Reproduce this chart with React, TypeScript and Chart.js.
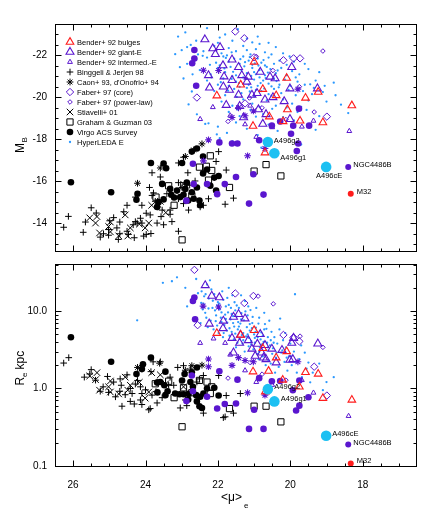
import React, { useEffect, useRef } from 'react';
import { Chart, registerables } from 'chart.js';

Chart.register(...registerables);

type P = [number, number];

// ---------------- DATA: [<mu>_e, M_B] (top)   [<mu>_e, R_e kpc] (bottom)
const benderBulgesTop: P[] = [[22.03,-20.08],[21.37,-20.60],[21.00,-21.69],[20.76,-20.39],[20.39,-20.09],[20.10,-20.92],[19.58,-19.97],[19.23,-20.25],[18.30,-19.61],[20.08,-19.42],[20.58,-19.08],[21.03,-18.63],[20.20,-18.85],[19.73,-18.88],[19.10,-18.80],[20.70,-17.36]];
const benderBulgesBottom: P[] = [[22.03,5.18],[21.37,4.92],[21.00,5.65],[20.76,3.30],[20.10,3.01],[20.39,2.50],[19.58,1.62],[19.23,1.54],[20.60,1.68],[21.03,1.65],[20.21,1.29],[19.75,1.05],[19.10,0.75],[18.30,0.71],[20.69,0.91]];

const benderGiantTop: P[] = [[22.36,-22.76],[22.14,-22.33],[21.94,-22.39],[22.07,-22.06],[21.61,-21.80],[21.86,-21.52],[22.26,-21.05],[21.83,-20.99],[21.61,-20.82],[21.43,-21.44],[21.34,-21.05],[21.16,-20.98],[20.83,-21.21],[21.20,-20.74],[22.23,-20.46],[21.85,-20.51],[21.68,-20.35],[21.43,-20.12],[21.06,-20.12],[20.70,-19.89],[20.92,-20.20],[20.56,-20.98],[20.42,-20.90],[19.96,-21.44],[20.01,-20.42],[20.48,-20.00],[20.17,-19.81],[21.40,-19.58],[21.77,-19.63],[20.67,-19.19],[20.88,-19.42],[20.01,-18.96],[19.25,-20.42],[21.29,-19.04],[20.76,-18.73]];
const benderGiantBottom: P[] = [[22.35,21.5],[22.17,15.7],[21.96,15.0],[22.24,6.85],[21.85,7.48],[21.86,5.98],[21.61,4.48],[21.38,4.92],[21.40,3.87],[21.16,4.19],[21.06,3.25],[20.91,3.76],[20.70,3.62],[20.51,3.25],[20.23,3.13],[19.96,3.87],[20.79,2.90],[20.67,2.38],[20.97,2.63],[20.01,2.34],[21.57,2.90],[20.39,2.16],[21.43,9.12],[21.57,8.40],[21.25,8.0],[20.83,5.02],[19.24,3.79],[19.93,2.38],[20.74,2.50],[19.91,4.48]];

const benderInterTop: P[] = [[22.49,-18.96],[22.14,-19.53],[19.36,-18.88],[18.37,-18.39],[20.94,-18.11],[19.68,-18.60],[21.25,-18.71],[21.66,-19.13],[20.50,-18.57],[21.11,-19.60]];
const benderInterBottom: P[] = [[22.49,3.87],[22.12,4.41],[21.80,3.87],[19.36,0.88],[18.39,0.44],[20.94,1.21],[19.68,1.28],[21.25,1.71],[20.50,1.11],[21.66,2.73]];

const binggeliTop: P[] = [[26.13,-14.32],[26.26,-13.80],[25.50,-14.73],[25.66,-14.05],[25.72,-13.56],[25.25,-13.33],[25.02,-13.42],[24.99,-14.11],[24.88,-14.26],[24.71,-14.05],[24.71,-13.49],[24.51,-13.61],[24.34,-13.92],[24.23,-14.00],[24.14,-14.23],[24.10,-14.00],[23.98,-14.47],[24.10,-14.85],[24.28,-15.24],[24.51,-14.85],[24.60,-14.54],[23.87,-14.39],[23.68,-14.00],[23.85,-13.50],[24.31,-13.30],[24.05,-13.38],[23.54,-14.62],[23.32,-14.62],[23.57,-14.31],[23.89,-15.70],[23.82,-15.32],[23.09,-16.87],[22.95,-17.14],[22.83,-16.40],[23.59,-16.20],[23.41,-15.40],[23.09,-15.16],[22.95,-14.93],[22.81,-14.62],[22.40,-14.85],[21.98,-17.41],[21.77,-16.53],[21.57,-15.19],[22.99,-15.70],[22.78,-15.81],[22.63,-16.01],[25.02,-13.69],[25.16,-13.49],[24.79,-13.77],[24.47,-13.46],[23.98,-13.46],[24.28,-14.07],[23.73,-15.04],[23.66,-14.77],[23.32,-14.42],[23.78,-15.44],[23.82,-16.40],[23.09,-15.93],[22.26,-15.16],[22.05,-16.94],[21.80,-14.90],[22.49,-14.77],[23.27,-14.07],[23.50,-13.92],[23.09,-13.61],[25.36,-14.48],[24.75,-13.22]];
const binggeliBottom: P[] = [[26.12,2.50],[26.26,2.13],[25.50,1.75],[25.54,1.54],[25.69,1.40],[25.05,1.43],[25.25,0.92],[25.02,0.89],[25.17,1.05],[24.88,1.21],[24.67,1.10],[24.70,1.33],[24.51,1.50],[24.71,0.92],[24.42,1.00],[24.37,0.86],[24.22,1.27],[24.14,1.05],[24.10,0.86],[24.14,0.71],[24.42,0.68],[24.31,0.63],[24.65,0.59],[24.10,0.62],[23.87,0.55],[23.82,0.82],[23.79,2.21],[23.59,2.21],[23.85,1.65],[23.68,1.21],[23.54,0.76],[23.36,1.10],[23.22,1.10],[23.11,1.87],[22.95,1.97],[22.76,1.78],[22.58,1.21],[22.90,0.71],[22.86,0.60],[23.04,0.56],[22.51,1.33],[22.40,1.47],[21.98,1.47],[21.77,0.81],[21.57,0.48],[21.85,0.42],[23.71,0.91],[23.91,0.53],[23.68,0.65],[22.40,0.48],[21.80,0.43],[25.38,1.28],[24.83,0.78],[24.56,0.83],[24.00,0.96],[24.28,1.14],[23.32,1.40],[21.38,0.86]];

const caonBlackTop: P[] = [[22.44,-17.78],[23.59,-16.63],[24.22,-15.90],[22.67,-17.49],[22.90,-17.18]];
const caonPurpleTop: P[] = [[22.40,-21.29],[21.98,-21.28],[21.43,-19.50],[21.02,-19.35],[21.61,-19.04],[21.25,-19.12],[19.79,-20.39],[21.18,-17.21],[20.70,-17.56],[22.26,-17.97],[22.40,-16.97]];
const caonBlackBottom: P[] = [[24.22,1.87],[23.61,2.12],[22.72,1.97],[22.44,2.00],[22.90,1.72]];
const caonPurpleBottom: P[] = [[22.41,11.6],[21.98,11.3],[21.43,2.50],[21.02,2.21],[21.61,1.99],[21.25,2.30],[19.79,2.21],[21.18,0.88],[20.70,0.82],[22.26,2.40],[22.26,1.91]];

const faberCoreTop: P[] = [[21.52,-23.14],[21.27,-22.82],[21.00,-21.91],[20.19,-21.77],[19.91,-21.86],[19.73,-21.86],[22.58,-19.99],[21.25,-19.71],[18.99,-19.08]];
const faberCoreBottom: P[] = [[22.65,34.1],[21.52,16.9],[21.02,15.7],[21.27,12.7],[19.91,4.57],[19.75,4.06],[20.19,4.92],[22.56,6.58],[18.99,0.81],[19.34,1.91]];
const faberPowerTop: P[] = [[20.48,-21.28],[19.10,-22.21],[19.75,-20.51],[19.34,-19.30],[20.94,-21.95],[21.13,-19.97],[20.78,-19.50],[20.12,-18.94],[21.72,-18.85]];
const faberPowerBottom: P[] = [[20.89,15.6],[20.47,12.4],[19.10,3.4],[19.73,4.74],[21.11,2.16],[20.78,1.53],[20.12,1.28],[21.72,1.36]];

const stiavelliTop: P[] = [[25.54,-14.25],[25.38,-14.00],[25.27,-13.53],[25.02,-13.84],[24.97,-13.58],[24.74,-13.39],[24.49,-13.38],[24.42,-13.77],[24.17,-13.95],[24.01,-13.77],[23.83,-14.85],[23.44,-14.50],[23.59,-15.04],[22.95,-15.86],[25.34,-14.31],[24.97,-14.05],[24.56,-14.39],[23.91,-14.00]];
const stiavelliBottom: P[] = [[25.54,1.45],[25.38,1.30],[25.27,0.95],[25.02,1.05],[24.97,0.90],[24.74,0.85],[24.49,0.95],[24.42,1.10],[24.17,1.20],[24.01,0.75],[23.83,1.60],[23.44,1.15],[23.59,1.50],[22.95,1.05],[25.34,1.60],[24.97,1.25],[24.56,1.40],[23.91,0.90]];

const grahamTop: P[] = [[22.21,-17.21],[22.51,-16.67],[22.32,-16.71],[22.17,-16.51],[22.26,-16.05],[21.68,-15.70],[23.36,-15.78],[23.71,-15.24],[23.21,-14.85],[22.95,-15.78],[22.72,-15.29],[22.99,-13.20],[20.67,-16.79],[20.26,-16.25],[21.00,-16.48]];
const grahamBottom: P[] = [[23.73,1.15],[23.36,1.24],[23.21,0.76],[22.72,0.88],[22.51,1.27],[22.30,1.21],[22.17,1.05],[22.21,0.86],[21.68,0.55],[22.99,0.32],[21.00,0.59],[20.67,0.59],[20.26,0.37],[22.95,1.02]];

const virgoBlackTop: P[] = [[26.06,-15.95],[24.95,-15.47],[23.85,-16.87],[23.50,-16.84],[23.43,-16.62],[24.22,-15.40],[24.25,-15.11],[23.64,-15.00],[23.50,-15.13],[23.32,-15.63],[23.29,-15.35],[23.21,-15.22],[23.04,-15.24],[22.99,-16.87],[22.86,-15.93],[22.90,-15.63],[22.95,-15.35],[22.72,-15.47],[22.58,-15.70],[22.67,-15.16],[22.51,-15.08],[22.41,-16.37],[22.30,-16.56],[22.10,-16.17],[21.98,-16.25],[22.58,-17.56],[22.72,-17.41],[22.49,-14.85],[22.21,-15.78],[22.05,-15.55],[23.68,-14.77],[23.13,-15.55],[23.54,-15.87],[22.41,-17.18],[22.82,-15.08]];
const virgoPurpleTop: P[] = [[22.65,-22.26],[22.65,-21.85],[22.71,-21.63],[22.60,-20.55],[19.76,-19.46],[20.28,-18.85],[20.51,-18.65],[19.92,-18.65],[19.48,-18.65],[19.98,-18.26],[21.46,-17.80],[19.82,-17.44],[19.78,-17.80],[21.50,-16.20],[21.02,-16.33],[20.74,-15.36],[21.14,-14.93],[21.96,-17.85],[21.61,-17.80],[22.69,-16.83],[22.67,-15.86],[22.30,-15.86],[22.02,-15.38],[21.81,-15.86],[22.87,-15.07],[20.86,-17.95]];
const virgoBlackBottom: P[] = [[26.06,4.60],[24.95,2.21],[23.85,2.50],[24.07,2.06],[24.10,1.78],[24.25,1.54],[23.45,1.65],[23.59,1.21],[23.48,1.10],[23.67,0.89],[23.39,0.92],[23.18,0.86],[23.06,0.84],[22.95,0.84],[22.81,0.85],[22.99,1.27],[22.92,1.54],[22.76,1.21],[22.69,1.05],[22.60,0.82],[22.49,0.78],[22.58,0.68],[22.51,0.59],[22.44,0.56],[22.30,1.00],[22.10,1.02],[21.98,0.81],[22.58,1.87],[22.72,1.62],[23.45,0.82],[23.68,1.19],[22.40,0.86],[22.82,0.72]];
const virgoPurpleBottom: P[] = [[22.65,15.0],[22.69,13.5],[22.63,7.84],[21.96,1.67],[21.46,1.30],[22.72,1.47],[22.69,0.92],[22.87,0.69],[22.30,0.78],[22.02,0.55],[21.81,0.63],[21.50,0.64],[21.00,0.53],[21.14,0.30],[20.74,0.30],[19.84,0.52],[19.75,0.60],[19.50,0.77],[19.93,0.95],[20.51,1.24],[20.28,1.25],[19.75,1.27],[20.86,1.36]];

const hyperledaTop: P[] = [
[22.9,-23.1],[22.3,-23.3],[21.8,-23.0],[21.6,-22.7],[23.1,-22.9],[22.0,-22.6],[21.2,-22.8],[22.6,-22.7],[20.6,-22.6],[21.45,-23.25],[22.75,-22.5],[20.9,-22.9],
[22.85,-22.4],[22.4,-22.2],[22.1,-22.45],[21.9,-22.1],[21.7,-22.35],[21.5,-22.2],[21.3,-22.45],[21.1,-22.05],[20.95,-22.3],[20.7,-22.15],[20.4,-22.4],[22.55,-22.05],[21.2,-22.25],[20.2,-22.1],[23.0,-22.25],[21.75,-22.0],
[22.6,-21.8],[22.3,-21.9],[22.05,-21.65],[21.85,-21.95],[21.7,-21.7],[21.55,-21.85],[21.4,-21.6],[21.3,-21.95],[21.15,-21.75],[21.05,-21.55],[20.9,-21.85],[20.8,-21.65],[20.6,-21.9],[20.45,-21.6],[20.3,-21.75],[20.1,-21.55],[19.9,-21.7],[22.85,-21.6],[21.95,-21.52],[21.25,-21.68],[20.7,-21.52],[19.6,-21.6],
[22.5,-21.3],[22.2,-21.1],[22.0,-21.4],[21.8,-21.2],[21.65,-21.45],[21.5,-21.05],[21.35,-21.3],[21.2,-21.15],[21.05,-21.4],[20.95,-21.1],[20.85,-21.3],[20.7,-21.05],[20.55,-21.35],[20.4,-21.15],[20.25,-21.4],[20.1,-21.05],[19.95,-21.25],[19.75,-21.1],[19.5,-21.35],[21.6,-21.0],[21.0,-21.2],[20.65,-21.45],[22.7,-21.1],[19.2,-21.2],
[22.3,-20.8],[22.0,-20.6],[21.85,-20.9],[21.7,-20.55],[21.5,-20.75],[21.3,-20.95],[21.15,-20.6],[21.0,-20.85],[20.9,-20.55],[20.75,-20.8],[20.6,-20.65],[20.45,-20.9],[20.3,-20.6],[20.15,-20.85],[20.0,-20.55],[19.8,-20.75],[19.6,-20.6],[19.3,-20.8],[19.05,-20.55],[21.4,-20.5],[20.85,-20.95],[18.8,-20.7],
[22.1,-20.3],[21.8,-20.1],[21.55,-20.4],[21.35,-20.2],[21.2,-20.45],[21.0,-20.05],[20.8,-20.3],[20.6,-20.15],[20.45,-20.4],[20.25,-20.2],[20.05,-20.35],[19.85,-20.1],[19.65,-20.3],[19.4,-20.15],[19.35,-20.45],[19.1,-20.25],[18.75,-20.1],[20.95,-20.35],
[21.9,-19.8],[21.6,-19.6],[21.3,-19.9],[21.05,-19.7],[20.85,-19.55],[20.65,-19.85],[20.4,-19.6],[20.2,-19.9],[19.95,-19.7],[19.7,-19.55],[19.5,-19.85],[19.0,-19.8],[18.6,-19.65],[20.1,-19.52],
[21.7,-19.3],[21.4,-19.1],[21.1,-19.4],[20.75,-19.2],[20.5,-19.45],[20.2,-19.05],[19.8,-19.3],[19.55,-19.4],[19.2,-19.1],[18.4,-19.25],
[22.0,-18.6],[21.75,-18.3],[21.5,-18.8],[21.2,-18.5],[20.9,-18.2],[20.6,-18.7],[20.35,-18.4],[19.9,-18.9],[19.3,-18.45],[21.95,-18.05],
[21.6,-17.9],[20.8,-17.6],[19.7,-17.75],
[23.18,-22.06],[23.05,-21.44],[22.95,-20.9],[22.72,-20.28],[22.81,-19.66],[22.58,-19.19],[22.35,-18.73],[22.26,-18.76],[22.03,-18.23],
[21.62,-22.15],[21.38,-21.82],[21.12,-21.92],[20.98,-21.62],[20.74,-21.78],[20.52,-22.05],[21.82,-21.38],[21.58,-21.22],[21.27,-21.48],[21.08,-21.02],[20.88,-21.52],[20.62,-21.18],[20.35,-21.28],[21.92,-20.72],[21.62,-20.88],[21.42,-20.68],[21.22,-20.88],[21.08,-20.48],[20.82,-20.68],[20.68,-20.92],[20.52,-20.52],[20.38,-20.78],[21.72,-20.32],[21.48,-20.02],[21.12,-20.28],[20.72,-20.42],[20.52,-20.08],[20.32,-20.48],[21.78,-21.88],[22.22,-21.55],[22.42,-21.98],[20.85,-22.55],[21.95,-22.85],[21.05,-22.62],[22.18,-20.95],[19.85,-20.95],[20.02,-21.95],[19.45,-20.62],[21.45,-19.42],[20.95,-19.08]];

const hyperledaBottom: P[] = [
[23.13,27.3],[23.27,24.3],[23.52,23.2],[22.9,20],[22.7,14],[22.6,26],[22.85,11.5],[22.55,17],[24.23,7.6],
[22.45,18],[22.4,12.5],[22.35,9.5],[22.3,22],[22.25,14.5],[22.2,7.5],[22.15,11],[22.1,16.5],[22.05,8.8],[22.0,13],[22.48,7],[22.38,15.5],[22.28,6.2],[22.18,19],[22.08,10.2],[22.02,6.5],[22.42,10.5],[22.22,25],[22.12,5.8],[22.32,8.2],
[21.95,10.5],[21.9,7.2],[21.85,14],[21.8,9],[21.75,5.6],[21.7,12],[21.65,7.8],[21.6,16],[21.55,6.3],[21.52,10.2],[21.98,5.2],[21.88,18],[21.78,11.5],[21.68,4.8],[21.58,8.6],[21.92,8.2],[21.82,6.6],[21.72,9.6],[21.62,5.4],[21.54,13],[21.96,12.5],[21.74,7.1],[21.64,11],[21.86,4.6],[21.56,4.3],[21.7,20],
[21.48,8.5],[21.45,5.8],[21.42,11],[21.4,4.4],[21.38,6.9],[21.35,9.4],[21.32,3.8],[21.3,5.2],[21.28,7.6],[21.25,13.5],[21.22,4.7],[21.2,6.2],[21.18,8.8],[21.15,3.5],[21.12,5.6],[21.1,10.3],[21.08,4.1],[21.05,7.0],[21.02,3.2],[21.0,5.0],[21.46,3.9],[21.36,16],[21.26,3.0],[21.16,11.5],[21.06,6.0],[21.44,7.2],[21.34,4.9],[21.14,4.5],
[20.98,3.9],[20.95,6.1],[20.92,2.8],[20.9,4.6],[20.86,8.2],[20.84,3.4],[20.8,5.3],[20.76,2.6],[20.74,4.0],[20.7,6.8],[20.66,3.1],[20.62,4.6],[20.6,2.3],[20.56,3.6],[20.52,5.4],[20.5,2.8],[20.88,2.4],[20.72,9.5],[20.68,2.0],[20.58,7.5],[20.78,3.7],[20.64,3.9],[20.94,11],[20.54,2.1],
[20.48,3.3],[20.44,4.6],[20.4,2.5],[20.36,3.8],[20.32,1.9],[20.28,8.0],[20.25,2.9],[20.2,4.2],[20.16,2.2],[20.12,3.4],[20.08,1.7],[20.04,2.6],[20.0,3.8],[20.3,5.8],[20.42,1.6],[20.14,5.2],
[19.96,2.0],[19.9,3.0],[19.87,16.5],[19.82,1.6],[19.75,2.4],[19.68,1.4],[19.6,2.9],[19.55,1.8],[19.5,2.16],[19.45,1.2],[19.38,1.6],[19.7,3.6],
[19.0,1.21],[19.2,2.1],[18.8,1.4],[19.1,0.95],
[21.62,9.2],[21.48,11.8],[21.36,7.8],[21.24,9.9],[21.12,6.8],[21.04,8.4],[20.96,5.4],[20.88,6.9],[20.82,4.3],[20.72,5.8],[20.62,3.4],[20.54,4.2],[21.52,5.1],[21.42,6.3],[21.3,4.2],[21.18,5.0],[21.08,3.7],[20.98,4.5],[20.86,3.0],[20.76,4.8],[21.78,7.9],[21.9,9.6],[22.02,11.8],[22.14,13.6],[22.26,10.8],[21.68,6.0],[21.58,7.0],[21.5,3.4],[20.66,5.9],[20.46,3.9],[20.38,2.9],[20.22,3.1],[20.1,2.5],[19.98,2.6],[19.86,2.2],[21.84,5.2],[22.06,7.4],[22.34,16.5],[22.46,12.8],[21.74,14.8]];

// Labelled objects
const a496Names = ['A496g2', 'A496g1', 'A496cE'];
const a496Mu = [20.62, 20.44, 19.01];
const a496MB = [-17.87, -17.33, -16.68];
const a496Re = [0.98, 0.68, 0.245];
const compactNames = ['NGC4486B', 'M32'];
const compactMu = [18.40, 18.33];
const compactMB = [-16.68, -15.40];
const compactRe = [0.189, 0.107];

// Axes
const xTickValues = [26, 24, 22, 20, 18];
const yTickValuesTop = [-22, -20, -18, -16, -14];
const yTickValuesBottom = [0.1, 1, 10];
const yTickLabelsBottom = ['0.1', '1.0', '10.0'];

const legendLabels = ['Bender+ 92 bulges', 'Bender+ 92 giant-E', 'Bender+ 92 intermed.-E', 'Binggeli & Jerjen 98', "Caon+ 93, d'Onofrio+ 94", 'Faber+ 97 (core)', 'Faber+ 97 (power-law)', 'Stiavelli+ 01', 'Graham & Guzman 03', 'Virgo ACS Survey', 'HyperLEDA E'];

// ---------------- STYLE
const FONT = '"Liberation Sans", Arial, Helvetica, sans-serif';
const RED = '#ff1c1c';
const PURPLE = '#5a16cf';
const BLACK = '#000000';
const BLUE = '#2a98ff';
const CYAN = '#1cc0f2';

type Sty = { shape: string; r: number; color: string; filled: boolean; lw: number };
const ST: Record<string, Sty> = {
  bulges: { shape: 'triangle', r: 4.4, color: RED, filled: false, lw: 1.1 },
  giant: { shape: 'triangle', r: 4.6, color: PURPLE, filled: false, lw: 1.1 },
  inter: { shape: 'triangle', r: 2.8, color: PURPLE, filled: false, lw: 1 },
  binggeli: { shape: 'cross', r: 3.3, color: BLACK, filled: false, lw: 1 },
  caonB: { shape: 'star', r: 3.4, color: BLACK, filled: false, lw: 1 },
  caonP: { shape: 'star', r: 3.4, color: PURPLE, filled: false, lw: 1.1 },
  core: { shape: 'rectRot', r: 3.7, color: PURPLE, filled: false, lw: 1 },
  power: { shape: 'rectRot', r: 2.3, color: PURPLE, filled: false, lw: 1 },
  stiavelli: { shape: 'crossRot', r: 4.6, color: BLACK, filled: false, lw: 1 },
  graham: { shape: 'rect', r: 4.4, color: BLACK, filled: false, lw: 1 },
  virgoB: { shape: 'circle', r: 3.3, color: BLACK, filled: true, lw: 0 },
  virgoP: { shape: 'circle', r: 3.3, color: PURPLE, filled: true, lw: 0 },
  leda: { shape: 'circle', r: 1.15, color: BLUE, filled: true, lw: 0 },
  a496: { shape: 'circle', r: 5.3, color: CYAN, filled: true, lw: 0 },
  ngc: { shape: 'circle', r: 3, color: PURPLE, filled: true, lw: 0 },
  m32: { shape: 'circle', r: 3, color: RED, filled: true, lw: 0 },
};
const legendStyles = ['bulges', 'giant', 'inter', 'binggeli', 'caonB', 'core', 'power', 'stiavelli', 'graham', 'virgoB', 'leda'];

function ds(points: P[], key: string) {
  const s = ST[key];
  return {
    data: points.map(([x, y]) => ({ x, y })),
    showLine: false,
    pointStyle: s.shape,
    pointRadius: s.r,
    pointHoverRadius: s.r,
    pointBorderColor: s.color,
    pointBackgroundColor: s.filled ? s.color : 'rgba(0,0,0,0)',
    pointBorderWidth: s.lw,
    pointHoverBorderWidth: s.lw,
  };
}

function zip(xs: number[], ys: number[]): P[] {
  return xs.map((x, i) => [x, ys[i]] as P);
}

function datasets(panel: 'top' | 'bottom') {
  const t = panel === 'top';
  return [
    ds(zip(a496Mu, t ? a496MB : a496Re), 'a496'),
    ds([[compactMu[0], t ? compactMB[0] : compactRe[0]]], 'ngc'),
    ds([[compactMu[1], t ? compactMB[1] : compactRe[1]]], 'm32'),
    ds(t ? benderBulgesTop : benderBulgesBottom, 'bulges'),
    ds(t ? benderGiantTop : benderGiantBottom, 'giant'),
    ds(t ? benderInterTop : benderInterBottom, 'inter'),
    ds(t ? faberCoreTop : faberCoreBottom, 'core'),
    ds(t ? faberPowerTop : faberPowerBottom, 'power'),
    ds(t ? caonPurpleTop : caonPurpleBottom, 'caonP'),
    ds(t ? virgoPurpleTop : virgoPurpleBottom, 'virgoP'),
    ds(t ? caonBlackTop : caonBlackBottom, 'caonB'),
    ds(t ? virgoBlackTop : virgoBlackBottom, 'virgoB'),
    ds(t ? stiavelliTop : stiavelliBottom, 'stiavelli'),
    ds(t ? grahamTop : grahamBottom, 'graham'),
    ds(t ? binggeliTop : binggeliBottom, 'binggeli'),
    ds(t ? hyperledaTop : hyperledaBottom, 'leda'),
  ];
}

function drawMarker(ctx: CanvasRenderingContext2D, s: Sty, x: number, y: number) {
  const r = s.r;
  ctx.save();
  ctx.beginPath();
  ctx.strokeStyle = s.color;
  ctx.fillStyle = s.color;
  ctx.lineWidth = s.lw || 1;
  const sq = r * Math.SQRT1_2;
  switch (s.shape) {
    case 'circle': ctx.arc(x, y, r, 0, Math.PI * 2); break;
    case 'triangle':
      for (let k = 0; k < 3; k++) {
        const a = (k * 2 * Math.PI) / 3;
        const px = x + Math.sin(a) * r, py = y - Math.cos(a) * r;
        if (k === 0) ctx.moveTo(px, py); else ctx.lineTo(px, py);
      }
      ctx.closePath();
      break;
    case 'rectRot':
      ctx.moveTo(x - r, y); ctx.lineTo(x, y - r); ctx.lineTo(x + r, y); ctx.lineTo(x, y + r); ctx.closePath();
      break;
    case 'rect': ctx.rect(x - sq, y - sq, 2 * sq, 2 * sq); break;
    case 'cross':
      ctx.moveTo(x, y - r); ctx.lineTo(x, y + r); ctx.moveTo(x - r, y); ctx.lineTo(x + r, y);
      break;
    case 'crossRot':
      ctx.moveTo(x - sq, y - sq); ctx.lineTo(x + sq, y + sq); ctx.moveTo(x + sq, y - sq); ctx.lineTo(x - sq, y + sq);
      break;
    case 'star':
      ctx.moveTo(x, y - r); ctx.lineTo(x, y + r); ctx.moveTo(x - r, y); ctx.lineTo(x + r, y);
      ctx.moveTo(x - sq, y - sq); ctx.lineTo(x + sq, y + sq); ctx.moveTo(x + sq, y - sq); ctx.lineTo(x - sq, y + sq);
      break;
  }
  if (s.filled) ctx.fill(); else ctx.stroke();
  ctx.restore();
}

// label offsets in px from the marker centre: [dx, dy, align]
const labelOffsetsTop: Record<string, [number, number, CanvasTextAlign]> = {
  A496g2: [6, -1, 'left'], A496g1: [6, 5, 'left'], A496cE: [3, 9, 'center'], NGC4486B: [5, -2, 'left'], M32: [6, -2, 'left'],
};
const labelOffsetsBottom: Record<string, [number, number, CanvasTextAlign]> = {
  A496g2: [6.5, -2, 'left'], A496g1: [6.5, -2, 'left'], A496cE: [6, -2, 'left'], NGC4486B: [5, -2, 'left'], M32: [6, -2.5, 'left'],
};

function decor(panel: 'top' | 'bottom') {
  return {
    id: 'decor_' + panel,
    afterDraw(chart: any) {
      const ctx: CanvasRenderingContext2D = chart.ctx;
      const a = chart.chartArea;
      const xs = chart.scales.x, ys = chart.scales.y;
      ctx.save();
      ctx.strokeStyle = '#000';
      ctx.lineWidth = 1;
      const L = Math.round(a.left) + 0.5, R = Math.round(a.right) - 0.5;
      const T = Math.round(a.top) + 0.5, B = Math.round(a.bottom) - 0.5;
      ctx.strokeRect(L, T, R - L, B - T);
      ctx.beginPath();
      // x ticks (every 0.5, major every 2)
      for (let i = 33; i <= 53; i++) {
        const px = Math.round(xs.getPixelForValue(i / 2)) + 0.5;
        if (px <= L + 0.1 || px >= R - 0.1) continue;
        const len = i % 4 === 0 ? 6 : 3;
        ctx.moveTo(px, B); ctx.lineTo(px, B - len);
        ctx.moveTo(px, T); ctx.lineTo(px, T + len);
      }
      const yTick = (v: number, len: number) => {
        const py = Math.round(ys.getPixelForValue(v)) + 0.5;
        if (py <= T + 0.1 || py >= B - 0.1) return;
        ctx.moveTo(L, py); ctx.lineTo(L + len, py);
        ctx.moveTo(R, py); ctx.lineTo(R - len, py);
      };
      if (panel === 'top') {
        for (let i = -47; i <= -25; i++) yTick(i / 2, i % 4 === 0 ? 6 : 3);
      } else {
        for (let d = -2; d <= 1; d++) {
          for (let k = 1; k <= 9; k++) {
            const v = k * Math.pow(10, d);
            if (v < ys.min || v > ys.max) continue;
            yTick(v, k === 1 ? 6 : 3);
          }
        }
      }
      ctx.stroke();

      // object labels
      ctx.fillStyle = '#000';
      ctx.font = '7.5px ' + FONT;
      ctx.textBaseline = 'middle';
      const offs = panel === 'top' ? labelOffsetsTop : labelOffsetsBottom;
      const put = (name: string, mu: number, v: number) => {
        const [dx, dy, al] = offs[name];
        ctx.textAlign = al;
        ctx.fillText(name, xs.getPixelForValue(mu) + dx, ys.getPixelForValue(v) + dy);
      };
      a496Names.forEach((n, i) => put(n, a496Mu[i], panel === 'top' ? a496MB[i] : a496Re[i]));
      compactNames.forEach((n, i) => put(n, compactMu[i], panel === 'top' ? compactMB[i] : compactRe[i]));

      if (panel === 'top') {
        // legend
        legendLabels.forEach((lab, i) => {
          const y = 42 + i * 10;
          drawMarker(ctx, ST[legendStyles[i]], 70, y);
          ctx.fillStyle = '#000';
          ctx.font = '7.5px ' + FONT;
          ctx.textAlign = 'left';
          ctx.textBaseline = 'middle';
          ctx.fillText(lab, 77, y + 0.5);
        });
        // y title M_B
        ctx.save();
        ctx.translate(21, 145);
        ctx.rotate(-Math.PI / 2);
        ctx.fillStyle = '#000';
        ctx.textBaseline = 'middle';
        ctx.textAlign = 'left';
        ctx.font = '12px ' + FONT;
        ctx.fillText('M', -8, 0);
        ctx.font = '8px ' + FONT;
        ctx.fillText('B', 2.5, 4);
        ctx.restore();
      } else {
        // y title R_e kpc
        ctx.save();
        ctx.translate(21, 106.5 + 8);
        ctx.rotate(-Math.PI / 2);
        ctx.fillStyle = '#000';
        ctx.textBaseline = 'middle';
        ctx.textAlign = 'left';
        ctx.font = '12px ' + FONT;
        ctx.fillText('R', -21, 0);
        ctx.font = '8px ' + FONT;
        ctx.fillText('e', -12.5, 4);
        ctx.font = '12px ' + FONT;
        ctx.fillText('kpc', -5, 0);
        ctx.restore();
        // x title <mu>_e
        ctx.fillStyle = '#000';
        ctx.textBaseline = 'middle';
        ctx.textAlign = 'left';
        ctx.font = '12px ' + FONT;
        ctx.fillText('<\u03bc>', 221, 248);
        ctx.font = '8px ' + FONT;
        ctx.fillText('e', 244, 256);
      }
      ctx.restore();
    },
  };
}

function tickFont() {
  return { size: 10, family: FONT };
}

export default function App() {
  const topRef = useRef<HTMLCanvasElement>(null);
  const botRef = useRef<HTMLCanvasElement>(null);

  useEffect(() => {
    Chart.defaults.font.family = FONT;
    const common = {
      responsive: false,
      animation: false,
      devicePixelRatio: 1,
      events: [],
      plugins: { legend: { display: false }, tooltip: { enabled: false } },
    };
    const top = new Chart(topRef.current as HTMLCanvasElement, {
      type: 'scatter',
      data: { datasets: datasets('top') as any },
      options: {
        ...common,
        layout: { padding: { top: 24, right: 8, bottom: 8, left: 0 } },
        scales: {
          x: { type: 'linear', reverse: true, min: 16.5, max: 26.5, display: false },
          y: {
            type: 'linear', reverse: true, min: -23.5, max: -12.62,
            grid: { display: false, drawTicks: false }, border: { display: false },
            ticks: { color: '#000', font: tickFont(), padding: 8, callback: (v: any) => String(v) },
            afterBuildTicks: (s: any) => { s.ticks = yTickValuesTop.map((v) => ({ value: v })); },
            afterFit: (s: any) => { s.width = 55; },
          },
        },
      } as any,
      plugins: [decor('top')],
    });
    const bottom = new Chart(botRef.current as HTMLCanvasElement, {
      type: 'scatter',
      data: { datasets: datasets('bottom') as any },
      options: {
        ...common,
        layout: { padding: { top: 9, right: 8, bottom: 0, left: 0 } },
        scales: {
          x: {
            type: 'linear', reverse: true, min: 16.5, max: 26.5, position: 'bottom',
            grid: { display: false, drawTicks: false }, border: { display: false },
            ticks: { color: '#000', font: tickFont(), padding: 12, maxRotation: 0, autoSkip: false, callback: (v: any) => String(v) },
            afterBuildTicks: (s: any) => { s.ticks = xTickValues.map((v) => ({ value: v })); },
            afterFit: (s: any) => { s.height = 52; },
          },
          y: {
            type: 'logarithmic', min: 0.0966, max: 40.6,
            grid: { display: false, drawTicks: false }, border: { display: false },
            ticks: {
              color: '#000', font: tickFont(), padding: 8, autoSkip: false,
              callback: (v: any) => {
                const i = yTickValuesBottom.findIndex((t) => Math.abs(t - v) < 1e-9);
                return i >= 0 ? yTickLabelsBottom[i] : null;
              },
            },
            afterBuildTicks: (s: any) => { s.ticks = yTickValuesBottom.map((v) => ({ value: v })); },
            afterFit: (s: any) => { s.width = 55; },
          },
        },
      } as any,
      plugins: [decor('bottom')],
    });
    return () => { top.destroy(); bottom.destroy(); };
  }, []);

  return (
    <div style={{ position: 'fixed', left: 0, top: 0, width: 425, height: 519, background: '#fff', overflow: 'hidden' }}>
      <canvas ref={topRef} width={425} height={266} style={{ position: 'absolute', left: 0, top: 0, width: 425, height: 266 }} />
      <canvas ref={botRef} width={425} height={269} style={{ position: 'absolute', left: 0, top: 250, width: 425, height: 269 }} />
    </div>
  );
}
